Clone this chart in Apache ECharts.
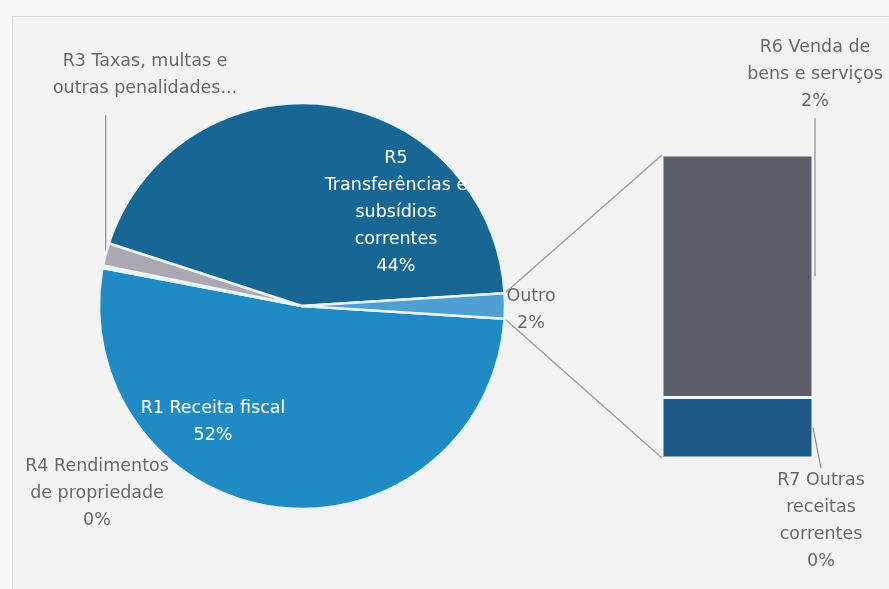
<!DOCTYPE html>
<html>
<head>
<meta charset="utf-8">
<script src="https://cdn.jsdelivr.net/npm/echarts@6/dist/echarts.min.js"></script>
<style>
  html, body { margin: 0; padding: 0; background: #f6f6f6; }
  #frame {
    position: absolute; left: 12px; top: 16px; width: 877px; height: 573px;
    background: #f2f2f2; border-left: 1px solid #d9d9d9; border-top: 1px solid #d9d9d9;
  }
  #chart { position: absolute; left: 0; top: 0; width: 889px; height: 589px; }
</style>
</head>
<body>
<div id="frame"></div>
<div id="chart"></div>
<script>
  // pie slices, clockwise from the bottom of the "Outro" wedge
  const PIE_LABELS = [
    "R1 Receita fiscal",
    "R4 Rendimentos\nde propriedade",
    "R3 Taxas, multas e\noutras penalidades...",
    "R5\nTransferências e\nsubsídios\ncorrentes",
  ];
  const PIE_VALUES = [52.0, 0.2, 1.8, 44.0];
  const PIE_COLORS = ["#1f8ac3", "#2f7fb5", "#aba7b3", "#186694"];

  // the split-off part shown in the bar (bottom to top)
  const BAR_LABELS = ["R7 Outras\nreceitas\ncorrentes", "R6 Venda de\nbens e serviços"];
  const BAR_VALUES = [0.4, 1.6];
  const BAR_COLORS = ["#1d5886", "#5b5d68"];

  const OTHER_LABEL = "Outro";
  const OTHER_COLOR = "#4f9fd2";

  const FONT = "DejaVu Sans";
  const FONT_SIZE = 17.5;
  const GREY = "#686868";
  const CX = 302, CY = 306, R = 203;
  const GRID = { left: 662, top: 155, width: 151, height: 303 };

  const otherValue = BAR_VALUES.reduce((a, b) => a + b, 0);
  const total = PIE_VALUES.reduce((a, b) => a + b, 0) + otherValue;
  const startAngle = -(otherValue / total) * 360 / 2;
  const pct = (v) => Math.round((v / total) * 100) + "%";

  // label anchor points (centre of each text block)
  const PIE_LABEL_POS = [[213, 422], [97, 493], [145, 75], [396, 212], [531, 310]];
  const BAR_LABEL_POS = [[821, 521], [815, 74]];

  function sliceEdge(i) {
    const before = PIE_VALUES.slice(0, i).reduce((a, b) => a + b, 0);
    const mid = before + PIE_VALUES[i] / 2;
    const a = (startAngle - (mid / total) * 360) * Math.PI / 180;
    return [CX + R * Math.cos(a), CY - R * Math.sin(a)];
  }

  const pieData = PIE_VALUES.map((v, i) => ({
    name: PIE_LABELS[i],
    value: v,
    itemStyle: { color: PIE_COLORS[i] },
    label: {
      position: i === 0 || i === 3 ? "inside" : "outside",
      color: i === 0 || i === 3 ? "#ffffff" : GREY,
      formatter: i === 2 ? PIE_LABELS[i] : PIE_LABELS[i] + "\n" + pct(v),
    },
    labelLine: { show: i === 2, lineStyle: { color: "#8a8a8a", width: 1.2 } },
  }));
  pieData.push({
    name: OTHER_LABEL,
    value: otherValue,
    itemStyle: { color: OTHER_COLOR },
    label: { position: "outside", color: GREY, formatter: OTHER_LABEL + "\n" + pct(otherValue) },
    labelLine: { show: false },
  });

  const barSeries = BAR_VALUES.map((v, i) => ({
    name: BAR_LABELS[i],
    type: "bar",
    stack: "other",
    barWidth: "100%",
    data: [v],
    itemStyle: { color: BAR_COLORS[i], borderColor: "#eef3f6", borderWidth: 1.5 },
    label: {
      show: true,
      position: i === 0 ? "bottom" : "top",
      color: GREY,
      fontFamily: FONT,
      fontSize: FONT_SIZE,
      lineHeight: 27,
      align: "center",
      formatter: BAR_LABELS[i] + "\n" + pct(v),
    },
    labelLayout: function () {
      const p = BAR_LABEL_POS[i];
      return { x: p[0], y: p[1], align: "center", verticalAlign: "middle" };
    },
  }));

  const chart = echarts.init(document.getElementById("chart"), null, { renderer: "canvas" });

  chart.setOption({
    animation: false,
    backgroundColor: "transparent",
    grid: GRID,
    xAxis: { type: "category", data: [OTHER_LABEL], show: false },
    yAxis: { type: "value", min: 0, max: otherValue, show: false },
    series: [
      {
        type: "pie",
        center: [CX, CY],
        radius: R,
        startAngle: startAngle,
        clockwise: true,
        avoidLabelOverlap: false,
        minShowLabelAngle: 0,
        data: pieData,
        itemStyle: { borderColor: "#eaf3f9", borderWidth: 2.5 },
        label: {
          show: true,
          fontFamily: FONT,
          fontSize: FONT_SIZE,
          lineHeight: 27,
          align: "center",
        },
        labelLayout: function (params) {
          const i = params.dataIndex;
          const p = PIE_LABEL_POS[i];
          const out = { x: p[0], y: p[1], align: "center", verticalAlign: "middle" };
          if (i === 2) {
            const e = sliceEdge(2);
            out.labelLinePoints = [e, [e[0], 180], [e[0], 115]];
          }
          return out;
        },
      },
      ...barSeries,
    ],
  });

  // series lines joining the "Outro" wedge to the bar, plus the bar leader lines
  const half = (otherValue / total) * Math.PI;
  const toPx = (v) => chart.convertToPixel({ xAxisIndex: 0, yAxisIndex: 0 }, [OTHER_LABEL, v]);
  const barTop = toPx(otherValue);
  const barBottom = toPx(0);
  const barLeft = barTop[0] - GRID.width / 2;
  const barRight = barTop[0] + GRID.width / 2;
  const midR7 = toPx(BAR_VALUES[0] / 2)[1];
  const midR6 = toPx(BAR_VALUES[0] + BAR_VALUES[1] / 2)[1];
  const connectorStyle = { stroke: "#9a9a9a", lineWidth: 1.3 };
  const leaderStyle = { stroke: "#8a8a8a", lineWidth: 1.2 };
  chart.setOption({
    graphic: [
      {
        type: "line",
        shape: { x1: CX + R * Math.cos(half), y1: CY - R * Math.sin(half), x2: barLeft, y2: barTop[1] },
        style: connectorStyle,
      },
      {
        type: "line",
        shape: { x1: CX + R * Math.cos(half), y1: CY + R * Math.sin(half), x2: barLeft, y2: barBottom[1] },
        style: connectorStyle,
      },
      {
        type: "line",
        z: 10,
        shape: { x1: barRight + 2, y1: midR6, x2: barRight + 2, y2: 118 },
        style: leaderStyle,
      },
      {
        type: "line",
        z: 10,
        shape: { x1: barRight, y1: midR7, x2: barRight + 8, y2: 468 },
        style: leaderStyle,
      },
    ],
  });
</script>
</body>
</html>
